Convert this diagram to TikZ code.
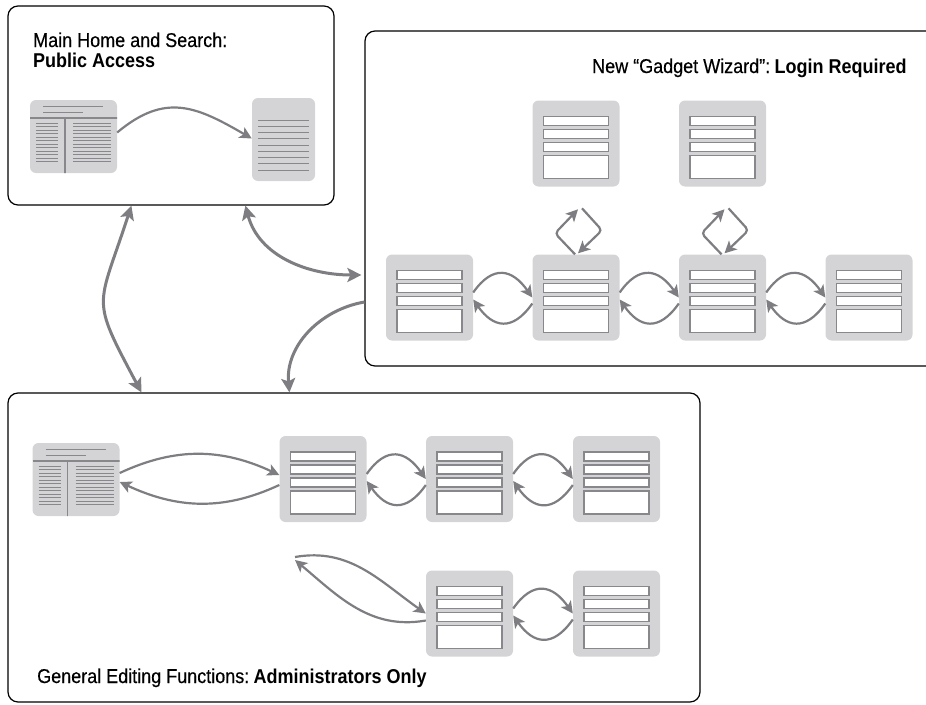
\documentclass[tikz,border=0pt]{standalone}
\usepackage{fontspec}
\setmainfont{Liberation Sans}[FakeStretch=0.9, UprightFeatures={FakeBold=0.4}]
\usepackage{tikz}
\usetikzlibrary{arrows.meta}

\definecolor{panegray}{HTML}{D4D4D6}
\definecolor{arrowgray}{HTML}{7E7E82}
\definecolor{rulegray}{HTML}{88888C}

\tikzset{
	panel/.style={draw=black, line width=1.2pt, rounded corners=10pt, inner sep=0pt},
	fieldline/.style={draw=rulegray, fill=white, line width=1.3pt, sharp corners},
	textline/.style={draw=rulegray, line width=1pt},
	form/.style={fill=panegray, rounded corners=6pt, minimum width=87pt, minimum height=86pt, inner sep=0pt,
		path picture={
			\foreach \fy/\fh in {16/9,29/9,42/9,55/23}
				\draw[fieldline] ([shift={(11pt,-\fy pt)}]path picture bounding box.north west) rectangle ++(65pt,-\fh pt);
		}},
	news/.style={fill=panegray, rounded corners=6pt, minimum width=87pt, minimum height=73pt, inner sep=0pt,
		path picture={
			\draw[textline] ([shift={(13pt,-6pt)}]path picture bounding box.north west) -- ++(60pt,0);
			\draw[textline] ([shift={(13pt,-12pt)}]path picture bounding box.north west) -- ++(40pt,0);
			\draw[textline, line width=1.3pt] ([yshift=-18pt]path picture bounding box.north west) -- ++(90pt,0);
			\draw[textline, line width=1.3pt] ([shift={(35pt,-18pt)}]path picture bounding box.north west) -- ++(0,-60pt);
			\foreach \ly in {0,...,11} {
				\draw[textline] ([shift={(6pt,-23pt-\ly*3.5pt)}]path picture bounding box.north west) -- ++(22pt,0);
				\draw[textline] ([shift={(43pt,-23pt-\ly*3.5pt)}]path picture bounding box.north west) -- ++(38pt,0);
			}
		}},
	page/.style={fill=panegray, rounded corners=6pt, minimum width=63pt, minimum height=83pt, inner sep=0pt,
		path picture={
			\foreach \ly in {0,...,8}
				\draw[textline] ([shift={(6pt,-22pt-\ly*6.25pt)}]path picture bounding box.north west) -- ++(51pt,0);
		}},
	arr/.style={draw=arrowgray, line width=2.2pt, -{Stealth[length=12pt,width=12pt,inset=3pt]}},
	bigarr/.style={draw=arrowgray, line width=3pt, {Stealth[length=14pt,width=14pt,inset=3pt]}-{Stealth[length=14pt,width=14pt,inset=3pt]}},
	title/.style={anchor=base west, inner sep=0pt, font=\fontsize{20}{22}\selectfont},
}

\begin{document}
\begin{tikzpicture}[x=1pt, y=1pt]
	\useasboundingbox (0,0) rectangle (926,-704);
	
	% the three areas
	\node[panel, minimum width=326pt, minimum height=199pt] (home) at (171,-105.5) {};
	\node[panel, minimum width=580pt, minimum height=335pt] (wiz) at (655,-198.5) {};
	\node[panel, minimum width=692pt, minimum height=309pt] (edit) at (354,-547.5) {};
	
	\node[title] (hometitle) at (33,-47) {Main Home and Search:};
	\node[title] (homesub) at (33,-67) {\bfseries Public Access};
	\node[title] (wiztitle) at (592,-73) {New “Gadget Wizard”:\hspace{0.22em}\bfseries Login Required};
	\node[title] (edittitle) at (37,-683) {General Editing Functions:\hspace{0.22em}\bfseries Administrators Only};
	
	% public pages
	\node[news] (news1) at (73.5,-136.5) {};
	\node[page] (page1) at (283.5,-139.5) {};
	\draw[arr] ([yshift=4pt]news1.east) to[out=40,in=150,looseness=1.2] ([yshift=1pt]page1.west);
	
	% wizard steps
	\node[form] (w1) at (429.5,-297.5) {};
	\node[form] (w2) at (576,-297.5) {};
	\node[form] (w3) at (722.5,-297.5) {};
	\node[form] (w4) at (869,-297.5) {};
	\node[form] (t2) at (576,-143.5) {};
	\node[form] (t3) at (722.5,-143.5) {};
	
	\foreach \a/\b in {w1/w2,w2/w3,w3/w4} {
		\draw[arr] ([yshift=5pt]\a.east) to[out=55,in=125,looseness=1.5] (\b.west);
		\draw[arr] ([yshift=-6pt]\b.west) to[out=-125,in=-55,looseness=1.5] ([yshift=-2pt]\a.east);
	}
	\foreach \a in {w2,w3} {
		\draw[arr, rounded corners=4pt] ([xshift=-1pt]\a.north) -- ++(-20,21) -- ++(23,24);
		\draw[arr, rounded corners=4pt] ([xshift=6pt,yshift=46pt]\a.north) -- ++(20,-22) -- ++(-24,-23);
	}
	
	% editing pages
	\node[news] (news2) at (76,-479.5) {};
	\node[form] (f1) at (323,-479) {};
	\node[form] (f2) at (469.5,-479) {};
	\node[form] (f3) at (616.5,-479) {};
	\node[form] (g2) at (469.5,-613.5) {};
	\node[form] (g3) at (616.5,-613.5) {};
	\coordinate (lp) at (295,-557);
	
	\draw[arr] ([yshift=6.5pt]news2.east) to[out=25,in=155] ([yshift=4pt]f1.west);
	\draw[arr] ([yshift=-6pt]f1.west) to[out=-155,in=-25] ([yshift=-2.5pt]news2.east);
	\foreach \a/\b in {f1/f2,f2/f3,g2/g3} {
		\draw[arr] ([yshift=5pt]\a.east) to[out=55,in=125,looseness=1.5] (\b.west);
		\draw[arr] ([yshift=-6pt]\b.west) to[out=-125,in=-55,looseness=1.5] ([yshift=-2pt]\a.east);
	}
	\draw[arr] (lp) to[out=10,in=145] (g2.west);
	\draw[arr] ([yshift=-7pt]g2.west) to[out=190,in=-40] ([yshift=-3pt]lp);
	
	% links between the areas
	\draw[bigarr] ([xshift=124pt]home.south west) to[out=-108,in=118,looseness=1.5] ([xshift=134pt]edit.north west);
	\draw[bigarr] ([xshift=238pt]home.south west) to[out=-75,in=180] ([xshift=-3pt,yshift=-76.5pt]wiz.west);
	\draw[-{Stealth[length=14pt,width=14pt,inset=3pt]}, draw=arrowgray, line width=3pt] ([yshift=-103.5pt]wiz.west) to[out=190,in=95] ([xshift=282pt]edit.north west);
\end{tikzpicture}
\end{document}
